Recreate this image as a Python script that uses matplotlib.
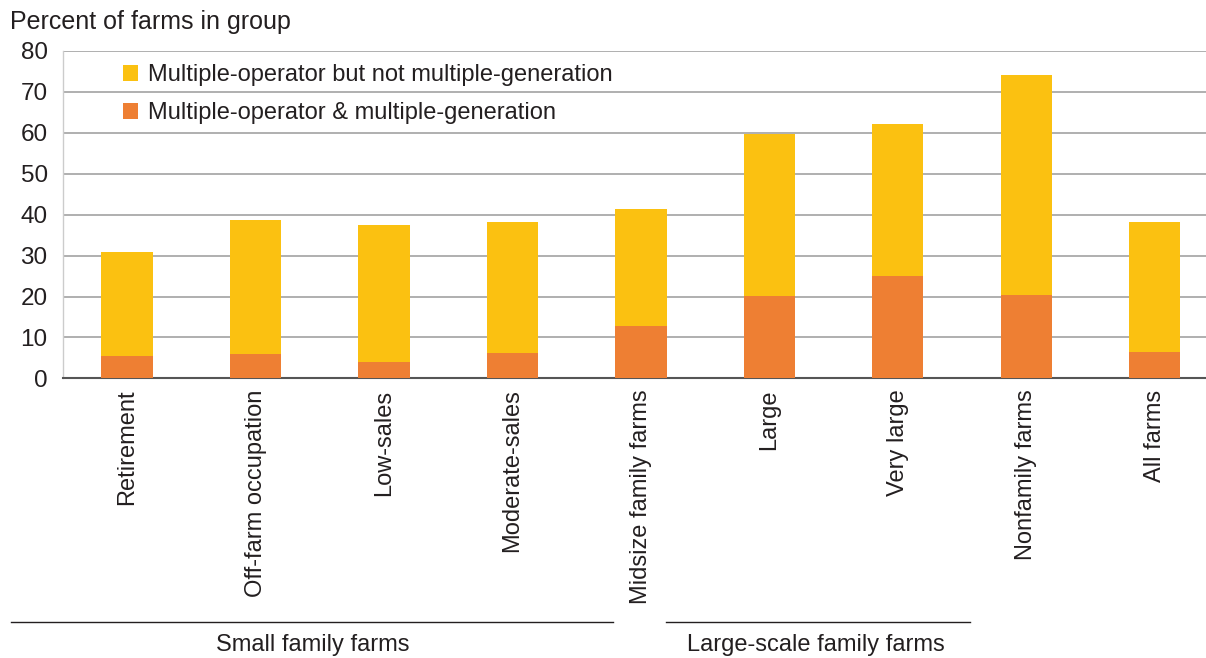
import matplotlib.pyplot as plt
from matplotlib.lines import Line2D

plt.rcParams['font.family'] = ['Liberation Sans', 'DejaVu Sans']

categories = ['Retirement', 'Off-farm occupation', 'Low-sales', 'Moderate-sales',
              'Midsize family farms', 'Large', 'Very large', 'Nonfamily farms', 'All farms']
multi_gen = [5.5, 6.0, 3.9, 6.3, 12.9, 20.2, 24.9, 20.3, 6.4]
total = [30.8, 38.6, 37.5, 38.1, 41.5, 59.7, 62.2, 74.2, 38.2]
not_multi_gen = [t - m for t, m in zip(total, multi_gen)]

yellow = '#FBC111'
orange = '#EE7F33'

fig = plt.figure(figsize=(12.06, 6.58), dpi=100)
ax = fig.add_axes([0.0522, 0.425, 0.9478, 0.4975])

x = list(range(len(categories)))
ax.bar(x, multi_gen, width=0.4, color=orange, zorder=3,
       label='Multiple-operator & multiple-generation')
ax.bar(x, not_multi_gen, bottom=multi_gen, width=0.4, color=yellow, zorder=3,
       label='Multiple-operator but not multiple-generation')

ax.set_xlim(-0.5, 8.4)
ax.set_ylim(0, 80)
ax.set_yticks(range(0, 81, 10))
ax.yaxis.grid(True, color='#9a9a9a', linewidth=1.1, zorder=0)
ax.set_xticks(x)
ax.set_xticklabels(categories, rotation=90, fontsize=17)
ax.tick_params(axis='y', length=0, labelsize=17.5, pad=11, colors='#231f20')
ax.tick_params(axis='x', length=0, pad=8, colors='#231f20')

for s in ['top', 'right']:
    ax.spines[s].set_visible(False)
ax.spines['left'].set_color('#cccccc')
ax.spines['left'].set_linewidth(1)
ax.spines['bottom'].set_color('#555555')
ax.spines['bottom'].set_linewidth(1.5)

handles, labels = ax.get_legend_handles_labels()
ax.legend(handles[::-1], labels[::-1], loc='upper left', bbox_to_anchor=(0.034, 1.025),
          frameon=False, fontsize=17, handlelength=0.65, handleheight=0.65,
          handletextpad=0.42, labelspacing=0.68, labelcolor='#231f20')

fig.text(0.008, 0.967, 'Percent of farms in group', fontsize=18, color='#231f20', va='center')

# group brackets under the category labels
fig.add_artist(Line2D([11 / 1206, 613 / 1206], [1 - 622 / 658] * 2, color='#231f20', lw=1))
fig.add_artist(Line2D([666 / 1206, 970 / 1206], [1 - 622 / 658] * 2, color='#231f20', lw=1))
fig.text(313 / 1206, 1 - 645 / 658, 'Small family farms', fontsize=17, ha='center', va='center', color='#231f20')
fig.text(816 / 1206, 1 - 645 / 658, 'Large-scale family farms', fontsize=17, ha='center', va='center', color='#231f20')

fig.savefig('out.png', dpi=100)
